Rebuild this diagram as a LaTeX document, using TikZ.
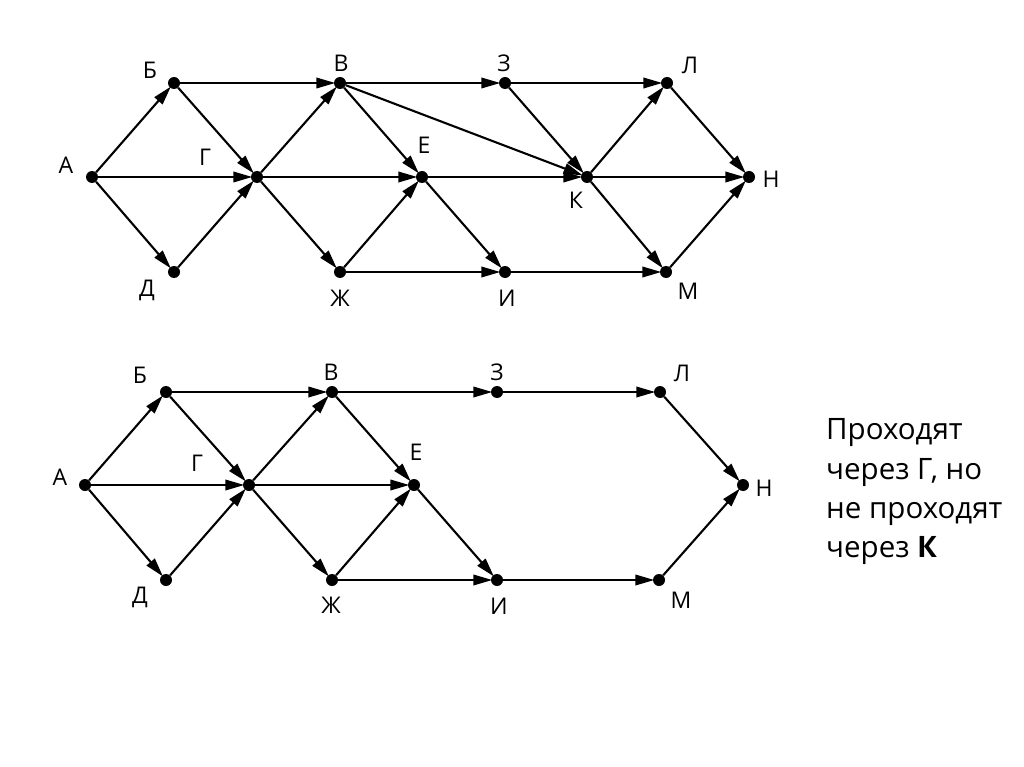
\documentclass[tikz,border=0pt]{standalone}
\usepackage{fontspec}
\setmainfont{Open Sans}
\usetikzlibrary{arrows.meta}
\begin{document}
\begin{tikzpicture}[x=1pt,y=-1pt,
  dot/.style={circle,fill=black,inner sep=0pt,minimum size=12pt},
  lbl/.style={font=\fontsize{23}{25}\selectfont,inner sep=0pt},
  txtline/.style={font=\fontsize{29.5}{36}\selectfont,inner sep=0pt,anchor=base west},
  edge/.style={line width=2.1pt,-{Triangle[length=19pt,width=10.5pt]},shorten >=-1.5pt}]
\useasboundingbox (0,0) rectangle (1024,767);
% ---------- top graph ----------
\node[dot] (A1) at (92,177) {};
\node[dot] (B1) at (174,83) {};
\node[dot] (D1) at (174,272) {};
\node[dot] (G1) at (257,177) {};
\node[dot] (V1) at (340,83) {};
\node[dot] (Zh1) at (340,272) {};
\node[dot] (E1) at (422,177) {};
\node[dot] (Z1) at (505,83) {};
\node[dot] (I1) at (505,272) {};
\node[dot] (K1) at (587,177) {};
\node[dot] (L1) at (667,83) {};
\node[dot] (M1) at (666,272) {};
\node[dot] (N1) at (749,177) {};
\node[lbl] (tA1) at (66,165) {А};
\node[lbl] (tB1) at (150,70) {Б};
\node[lbl] (tG1) at (205,157) {Г};
\node[lbl] (tD1) at (147,290) {Д};
\node[lbl] (tV1) at (341,63) {В};
\node[lbl] (tZh1) at (340,298) {Ж};
\node[lbl] (tE1) at (424,145) {Е};
\node[lbl] (tZ1) at (504,63) {З};
\node[lbl] (tI1) at (507,298) {И};
\node[lbl] (tK1) at (576,200) {К};
\node[lbl] (tL1) at (690,65) {Л};
\node[lbl] (tM1) at (688,291) {М};
\node[lbl] (tN1) at (771,179) {Н};
\foreach \a/\b in {A1/B1,A1/G1,A1/D1,B1/V1,B1/G1,D1/G1,G1/V1,G1/E1,G1/Zh1,
  V1/Z1,V1/E1,V1/K1,Zh1/E1,Zh1/I1,E1/K1,E1/I1,Z1/K1,Z1/L1,I1/M1,
  K1/L1,K1/N1,K1/M1,L1/N1,M1/N1}
  \draw[edge] (\a) -- (\b);
% ---------- bottom graph ----------
\node[dot] (A2) at (85,485) {};
\node[dot] (B2) at (166,392) {};
\node[dot] (D2) at (166,580) {};
\node[dot] (G2) at (249,485) {};
\node[dot] (V2) at (332,392) {};
\node[dot] (Zh2) at (332,580) {};
\node[dot] (E2) at (414,485) {};
\node[dot] (Z2) at (497,392) {};
\node[dot] (I2) at (497,580) {};
\node[dot] (L2) at (660,392) {};
\node[dot] (M2) at (659,580) {};
\node[dot] (N2) at (743,485) {};
\node[lbl] (tA2) at (60,477) {А};
\node[lbl] (tB2) at (140,375) {Б};
\node[lbl] (tG2) at (197,463) {Г};
\node[lbl] (tD2) at (140,597) {Д};
\node[lbl] (tV2) at (331,372) {В};
\node[lbl] (tZh2) at (331,605) {Ж};
\node[lbl] (tE2) at (416,452) {Е};
\node[lbl] (tZ2) at (497,372) {З};
\node[lbl] (tI2) at (499,606) {И};
\node[lbl] (tL2) at (682,373) {Л};
\node[lbl] (tM2) at (681,600) {М};
\node[lbl] (tN2) at (764,488) {Н};
\foreach \a/\b in {A2/B2,A2/G2,A2/D2,B2/V2,B2/G2,D2/G2,G2/V2,G2/E2,G2/Zh2,
  V2/Z2,V2/E2,Zh2/E2,Zh2/I2,E2/I2,Z2/L2,I2/M2,L2/N2,M2/N2}
  \draw[edge] (\a) -- (\b);
% ---------- text ----------
\node[txtline] (txt1) at (826,439) {Проходят};
\node[txtline] (txt2) at (826,479) {через Г, но};
\node[txtline] (txt3) at (826,518) {не проходят};
\node[txtline] (txt4) at (826,557) {через \textbf{К}};
\end{tikzpicture}
\end{document}
